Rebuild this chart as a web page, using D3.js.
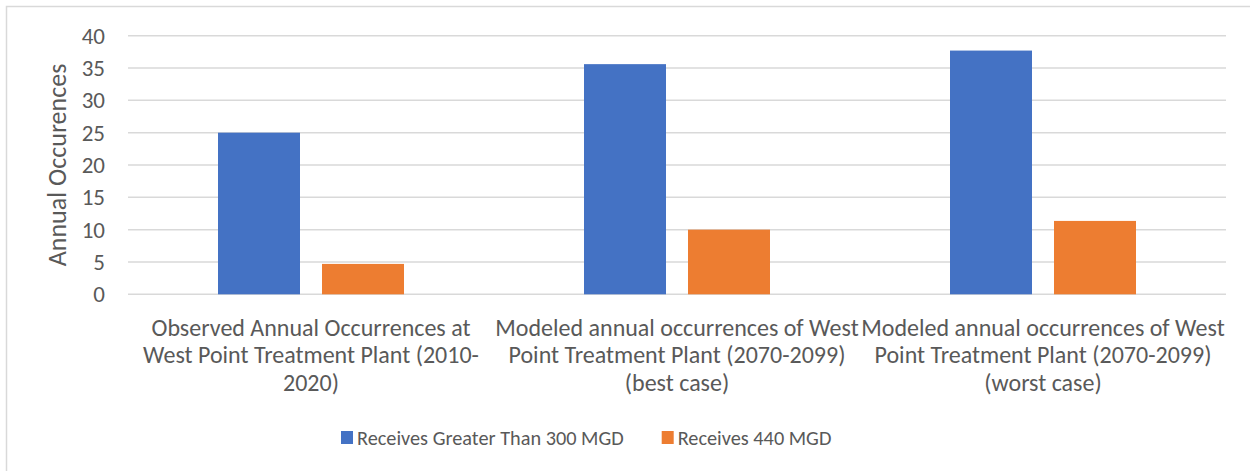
<!DOCTYPE html>
<html>
<head>
<meta charset="utf-8">
<script src="https://cdn.jsdelivr.net/npm/d3@7"></script>
<style>
  body { margin: 0; background: #fff; }
  svg text { font-family: Carlito, Calibri, Lato, sans-serif; fill: #595959; }
</style>
</head>
<body>
<svg id="chart" width="1250" height="471"></svg>
<script>
// values
var categories = ["observed", "best", "worst"]
var categoryLines = [
	["Observed Annual Occurrences at", "West Point Treatment Plant (2010-", "2020)"],
	["Modeled annual occurrences of West", "Point Treatment Plant (2070-2099)", "(best case)"],
	["Modeled annual occurrences of West", "Point Treatment Plant (2070-2099)", "(worst case)"]
]
var seriesNames = ["Receives Greater Than 300 MGD", "Receives 440 MGD"]
var seriesColors = ["#4472C4", "#ED7D31"]
var over300 = [25, 35.6, 37.7]
var mgd440 = [4.7, 10, 11.35]
var yTicks = [0, 5, 10, 15, 20, 25, 30, 35, 40]
var yTitle = "Annual Occurences"

var svg = d3.select("#chart")
var plot = {left: 128, right: 1226, top: 35.7, bottom: 294.3}

// chart area border (right and bottom edges fall outside the picture)
svg.append("rect")
	.attr("x", 6.5).attr("y", 6.5)
	.attr("width", 1260).attr("height", 480)
	.attr("fill", "none").attr("stroke", "#d9d9d9").attr("stroke-width", 1.5)

var y = d3.scaleLinear().domain([0, 40]).range([plot.bottom, plot.top])
var x0 = d3.scaleBand().domain(categories).range([plot.left, plot.right])
var groupWidth = 186
var x1 = d3.scaleBand().domain(seriesNames).range([0, groupWidth]).paddingInner(22 / 104)

// gridlines
svg.append("g").selectAll("line").data(yTicks).join("line")
	.attr("x1", plot.left).attr("x2", plot.right)
	.attr("y1", function(d) { return y(d) }).attr("y2", function(d) { return y(d) })
	.attr("stroke", "#d9d9d9").attr("stroke-width", 1.5)

// y axis labels
var yAxis = svg.append("g")
	.attr("transform", "translate(" + plot.left + ",0)")
	.call(d3.axisLeft(y).tickValues(yTicks).tickSize(0).tickPadding(23))
yAxis.select(".domain").remove()
yAxis.selectAll("text").style("font-size", "23px").attr("fill", "#595959")
	.style("font-family", "Carlito, Calibri, Lato, sans-serif")

svg.append("text")
	.attr("transform", "translate(66," + ((plot.top + plot.bottom) / 2) + ") rotate(-90)")
	.attr("text-anchor", "middle")
	.style("font-size", "26px")
	.text(yTitle)

// bars
var rows = categories.map(function(c, i) {
	return {cat: c, values: [over300[i], mgd440[i]]}
})
var groups = svg.append("g").selectAll("g").data(rows).join("g")
	.attr("transform", function(d) {
		return "translate(" + (x0(d.cat) + (x0.bandwidth() - groupWidth) / 2) + ",0)"
	})
groups.selectAll("rect").data(function(d) {
	return d.values.map(function(v, j) { return {name: seriesNames[j], value: v, color: seriesColors[j]} })
}).join("rect")
	.attr("x", function(d) { return x1(d.name) })
	.attr("width", x1.bandwidth())
	.attr("y", function(d) { return y(d.value) })
	.attr("height", function(d) { return y(0) - y(d.value) })
	.attr("fill", function(d) { return d.color })

// category labels
var catG = svg.append("g").selectAll("text").data(categories).join("text")
	.attr("x", function(d) { return x0(d) + x0.bandwidth() / 2 })
	.attr("y", 335.5)
	.attr("text-anchor", "middle")
	.style("font-size", "24px")
catG.each(function(d, i) {
	var t = d3.select(this)
	categoryLines[i].forEach(function(line, k) {
		t.append("tspan")
			.attr("x", x0(d) + x0.bandwidth() / 2)
			.attr("dy", k == 0 ? 0 : 27.7)
			.text(line)
	})
})

// legend
var legendX = [341, 661.7]
var legend = svg.append("g").selectAll("g").data(seriesNames).join("g")
	.attr("transform", function(d, i) { return "translate(" + legendX[i] + ",431)" })
legend.append("rect")
	.attr("width", 12).attr("height", 13)
	.attr("fill", function(d, i) { return seriesColors[i] })
legend.append("text")
	.attr("x", 16).attr("y", 14)
	.style("font-size", "20.3px")
	.text(function(d) { return d })
</script>
</body>
</html>
